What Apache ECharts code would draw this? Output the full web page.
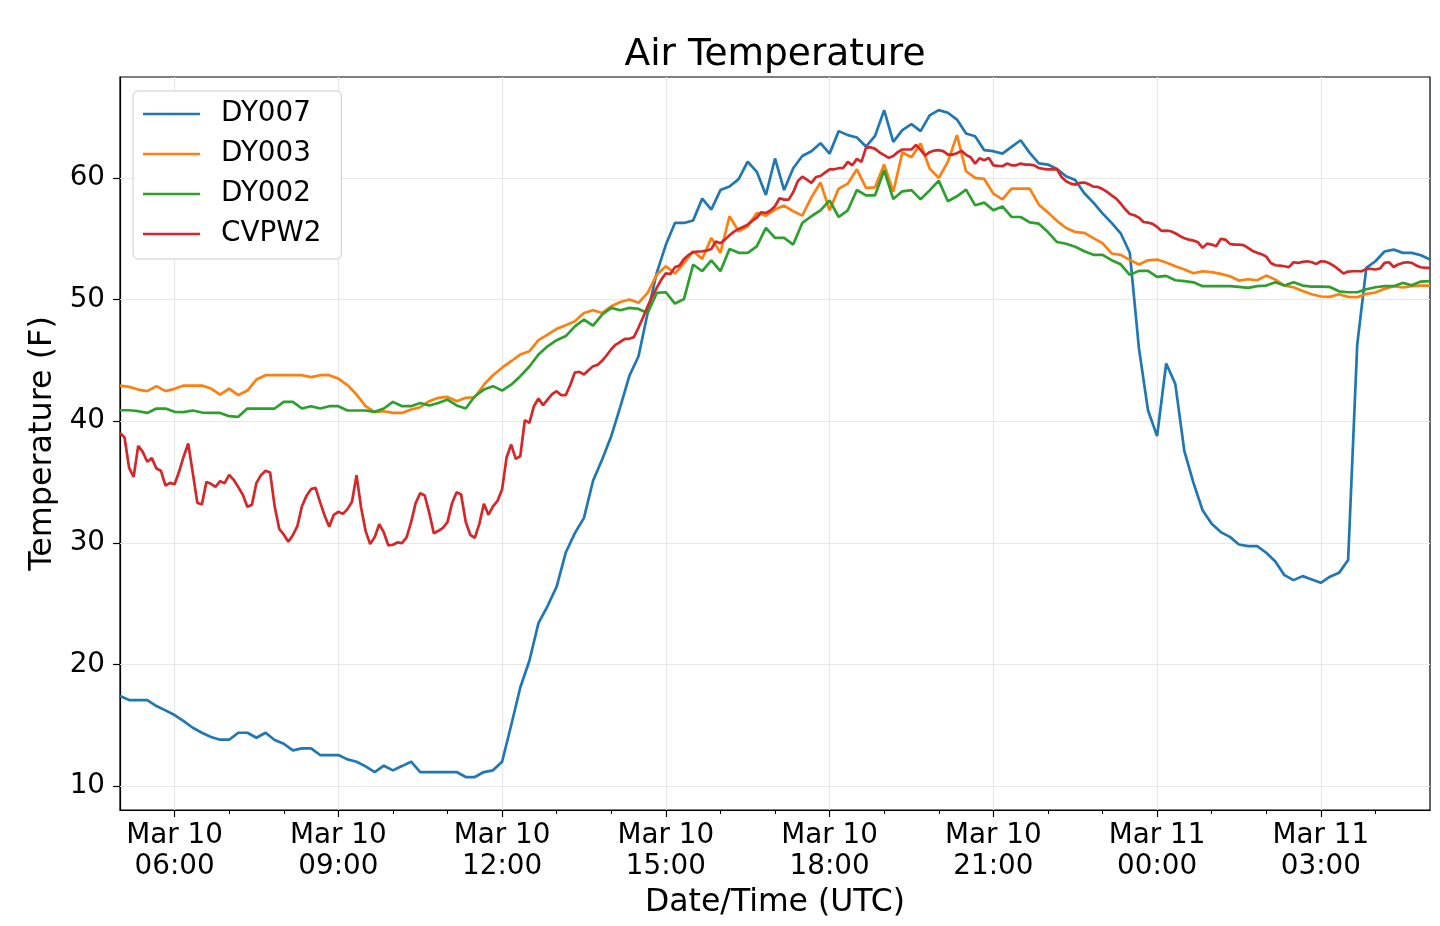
<!DOCTYPE html>
<html>
<head>
<meta charset="utf-8">
<script src="https://cdn.jsdelivr.net/npm/echarts@6/dist/echarts.min.js"></script>
<style>
html,body{margin:0;padding:0;background:#fff;}
#chart{width:1440px;height:926px;}
</style>
</head>
<body>
<div id="chart"></div>
<script>
// Time grid: hours since Mar 10 00:00 UTC
const startHour = 5;
const dyStepMin = 10;   // DY stations report every 10 minutes
const cvStepMin = 5;    // CVPW2 reports every 5 minutes

const xTickHours = [6, 9, 12, 15, 18, 21, 24, 27];
const xMinorHours = [7, 8, 10, 11, 13, 14, 16, 17, 19, 20, 22, 23, 25, 26, 28];
const yTicks = [10, 20, 30, 40, 50, 60];

const DY007 = [
17.4, 17.07, 17.07, 17.07, 16.58, 16.22, 15.84, 15.34, 14.79, 14.38,
14.03, 13.81, 13.81, 14.38, 14.38, 13.97, 14.38, 13.78, 13.48, 12.93,
13.1, 13.1, 12.55, 12.55, 12.55, 12.19, 12.0, 11.62, 11.15, 11.67,
11.29, 11.64, 12.0, 11.15, 11.15, 11.15, 11.15, 11.15, 10.74, 10.74,
11.15, 11.29, 12.0, 15.0, 18.1, 20.3, 23.4, 24.8, 26.4, 29.2,
30.8, 32.05, 35.1, 36.85, 38.77, 41.2, 43.75, 45.34, 48.9, 52.2,
54.5, 56.3, 56.3, 56.5, 58.3, 57.4, 59.0, 59.3, 59.9, 61.34,
60.5, 58.6, 61.6, 59.0, 60.8, 61.8, 62.2, 62.86, 62.0, 63.85,
63.52, 63.32, 62.58, 63.46, 65.58, 62.97, 63.93, 64.42, 63.85, 65.14,
65.58, 65.36, 64.8, 63.65, 63.43, 62.28, 62.2, 62.0, 62.55, 63.1,
62.06, 61.2, 61.1, 60.74, 60.14, 59.84, 58.74, 57.97, 57.09, 56.3,
55.45, 53.85, 46.03, 40.9, 38.77, 44.74, 43.07, 37.53, 34.93, 32.68,
31.56, 30.88, 30.49, 29.86, 29.73, 29.73, 29.18, 28.47, 27.34, 26.93,
27.26, 26.99, 26.71, 27.21, 27.53, 28.58, 46.3, 52.6, 53.15, 53.95,
54.11, 53.84, 53.84, 53.64, 53.29
];

const DY003 = [
42.93, 42.82, 42.6, 42.47, 42.88, 42.47, 42.66, 42.93, 42.93, 42.93,
42.68, 42.19, 42.68, 42.14, 42.52, 43.42, 43.78, 43.78, 43.78, 43.78,
43.78, 43.62, 43.78, 43.78, 43.5, 42.96, 42.19, 41.23, 40.74, 40.82,
40.68, 40.68, 40.96, 41.15, 41.64, 41.92, 42.0, 41.64, 41.92, 41.97,
43.0, 43.78, 44.4, 44.93, 45.48, 45.75, 46.66, 47.12, 47.59, 47.89,
48.22, 48.9, 49.12, 48.9, 49.45, 49.8, 50.0, 49.73, 50.55, 52.05,
52.74, 52.14, 53.0, 53.97, 53.34, 55.07, 53.84, 56.85, 55.62, 56.03,
57.12, 56.9, 57.4, 57.73, 57.26, 56.9, 58.4, 59.62, 57.34, 59.12,
59.53, 60.71, 59.18, 59.23, 61.1, 58.85, 62.09, 61.7, 62.83, 60.77,
60.0, 61.32, 63.52, 60.55, 60.0, 59.92, 58.71, 58.24, 59.12, 59.12,
59.12, 57.8, 57.17, 56.46, 55.88, 55.55, 55.49, 55.05, 54.64, 53.79,
53.68, 53.26, 52.88, 53.23, 53.29, 53.04, 52.74, 52.47, 52.16, 52.33,
52.25, 52.11, 51.92, 51.56, 51.67, 51.59, 51.97, 51.64, 51.15, 51.01,
50.71, 50.44, 50.25, 50.22, 50.44, 50.22, 50.19, 50.47, 50.58, 50.88,
51.1, 50.99, 51.1, 51.15, 51.15
];

const DY002 = [
40.9, 40.9, 40.82, 40.68, 41.04, 41.04, 40.77, 40.74, 40.88, 40.71,
40.68, 40.68, 40.41, 40.36, 41.04, 41.04, 41.04, 41.04, 41.59, 41.59,
41.04, 41.23, 41.04, 41.23, 41.23, 40.88, 40.88, 40.88, 40.77, 41.04,
41.59, 41.23, 41.23, 41.5, 41.29, 41.5, 41.78, 41.29, 41.04, 42.05,
42.6, 42.88, 42.52, 43.0, 43.7, 44.5, 45.48, 46.16, 46.66, 47.0,
47.8, 48.36, 47.86, 48.77, 49.32, 49.12, 49.32, 49.23, 48.9, 50.55,
50.6, 49.67, 50.05, 52.88, 52.33, 53.23, 52.33, 54.16, 53.84, 53.84,
54.38, 55.89, 55.07, 55.07, 54.52, 56.3, 56.85, 57.34, 58.16, 56.79,
57.34, 59.01, 58.57, 58.57, 60.63, 58.27, 58.9, 59.0, 58.24, 58.98,
59.78, 58.08, 58.49, 59.04, 57.75, 57.97, 57.34, 57.66, 56.79, 56.79,
56.35, 56.24, 55.55, 54.73, 54.59, 54.34, 53.98, 53.68, 53.68, 53.24,
52.9, 52.03, 52.36, 52.36, 51.86, 51.95, 51.59, 51.51, 51.42, 51.1,
51.1, 51.1, 51.1, 51.04, 50.96, 51.1, 51.15, 51.42, 51.15, 51.42,
51.15, 51.07, 51.07, 51.04, 50.68, 50.6, 50.6, 50.85, 51.01, 51.1,
51.1, 51.37, 51.18, 51.48, 51.51
];

const CVPW2 = [
39.04, 38.66, 36.16, 35.42, 37.97, 37.48, 36.66, 36.96, 36.11, 35.92,
34.71, 34.93, 34.82, 35.86, 37.1, 38.16, 35.75, 33.29, 33.15, 35.01,
34.85, 34.6, 35.07, 34.9, 35.59, 35.18, 34.58, 33.95, 32.96, 33.12,
34.93, 35.56, 35.92, 35.78, 33.0, 31.15, 30.68, 30.08, 30.63, 31.37,
33.0, 33.86, 34.41, 34.52, 33.32, 32.22, 31.32, 32.3, 32.55, 32.38,
32.77, 33.37, 35.56, 32.9, 30.96, 29.89, 30.47, 31.53, 30.85, 29.78,
29.84, 30.03, 29.97, 30.44, 31.7, 33.26, 34.08, 33.89, 32.44, 30.77,
30.99, 31.23, 31.7, 33.26, 34.16, 33.97, 31.73, 30.66, 30.41, 31.56,
33.21, 32.3, 32.99, 33.45, 34.38, 37.04, 38.08, 36.9, 37.12, 40.08,
39.86, 41.23, 41.86, 41.32, 41.78, 42.22, 42.47, 42.14, 42.14, 43.0,
44.0, 44.05, 43.84, 44.19, 44.52, 44.63, 44.96, 45.42, 45.92, 46.3,
46.52, 46.77, 46.77, 46.93, 47.7, 48.55, 49.45, 50.27, 50.96, 51.64,
52.16, 52.1, 52.66, 52.79, 53.34, 53.67, 53.89, 53.95, 53.97, 54.03,
54.16, 54.77, 54.63, 54.93, 55.29, 55.59, 55.81, 55.97, 56.16, 56.47,
56.74, 57.18, 57.12, 57.32, 57.67, 58.33, 58.22, 58.22, 58.82, 59.73,
60.1, 59.86, 59.59, 60.08, 60.16, 60.44, 60.71, 60.71, 60.8, 60.82,
61.32, 61.04, 61.57, 61.32, 62.47, 62.53, 62.39, 62.09, 61.87, 61.65,
61.81, 62.12, 62.34, 62.34, 62.34, 62.72, 62.31, 61.84, 62.12, 62.25,
62.28, 62.2, 61.92, 61.92, 62.03, 62.23, 61.9, 61.7, 61.18, 61.62,
61.46, 61.65, 61.04, 60.99, 60.96, 61.18, 61.04, 61.04, 61.18, 61.1,
61.1, 61.04, 60.82, 60.74, 60.71, 60.71, 60.71, 60.08, 59.73, 59.53,
59.45, 59.59, 59.62, 59.48, 59.29, 59.26, 59.09, 58.85, 58.57, 58.3,
57.9, 57.42, 57.04, 56.93, 56.74, 56.38, 56.33, 56.22, 55.97, 55.64,
55.67, 55.62, 55.45, 55.23, 55.04, 54.93, 54.85, 54.71, 54.25, 54.6,
54.52, 54.38, 54.99, 54.93, 54.58, 54.52, 54.52, 54.47, 54.25, 54.0,
53.84, 53.73, 53.53, 53.01, 52.82, 52.79, 52.74, 52.66, 53.07, 53.01,
53.1, 53.15, 53.07, 52.93, 53.15, 53.12, 52.96, 52.74, 52.44, 52.14,
52.3, 52.33, 52.33, 52.33, 52.52, 52.52, 52.47, 52.55, 53.01, 53.07,
52.68, 52.88, 53.01, 53.07, 53.01, 52.79, 52.66, 52.6, 52.6
];

function timeGrid(n, stepMin) {
  const t = [];
  for (let i = 0; i < n; i++) t.push(startHour + i * stepMin / 60);
  return t;
}
const dyTimes = timeGrid(DY007.length, dyStepMin);
const cvTimes = timeGrid(CVPW2.length, cvStepMin);
function pairs(times, vals) { return vals.map((v, i) => [times[i], v]); }

const FONT = 'DejaVu Sans';
const colors = ['#1f77b4', '#ff7f0e', '#2ca02c', '#d62728'];
const names = ['DY007', 'DY003', 'DY002', 'CVPW2'];
const seriesData = [pairs(dyTimes, DY007), pairs(dyTimes, DY003), pairs(dyTimes, DY002), pairs(cvTimes, CVPW2)];

function pad2(n) { return (n < 10 ? '0' : '') + n; }

const chart = echarts.init(document.getElementById('chart'), null, { renderer: 'canvas' });

const lineSeries = names.map((nm, i) => ({
  name: nm,
  type: 'line',
  data: seriesData[i],
  showSymbol: false,
  symbol: 'none',
  color: colors[i],
  lineStyle: { width: 2.7, color: colors[i] },
  emphasis: { disabled: true },
  z: 3
}));

const gridSeries = {
  type: 'line',
  data: [],
  silent: true,
  markLine: {
    silent: true,
    symbol: ['none', 'none'],
    label: { show: false },
    animation: false,
    z: 1,
    lineStyle: { color: '#e8e8e8', width: 1.2, type: 'solid' },
    data: xTickHours.map(h => ({ xAxis: h })).concat(yTicks.map(v => ({ yAxis: v })))
  },
  z: 1
};

chart.setOption({
  animation: false,
  backgroundColor: '#ffffff',
  textStyle: { fontFamily: FONT },
  title: {
    text: 'Air Temperature',
    left: 770,
    top: 31,
    textAlign: 'center',
    textStyle: { fontFamily: FONT, fontSize: 37.5, fontWeight: 'normal', color: '#000' }
  },
  legend: {
    data: names,
    orient: 'vertical',
    left: 133,
    top: 91,
    padding: [8, 20, 10, 10],
    icon: 'rect',
    itemWidth: 57,
    itemHeight: 2.7,
    itemGap: 10,
    backgroundColor: 'rgba(255,255,255,0.9)',
    borderColor: '#cccccc',
    borderWidth: 1,
    borderRadius: 5,
    textStyle: { fontFamily: FONT, fontSize: 27.8, color: '#000', padding: [0, 0, 0, 16], lineHeight: 30 }
  },
  grid: {
    left: 120, top: 77, width: 1310, height: 733,
    show: true, borderColor: '#000', borderWidth: 1.2, backgroundColor: 'transparent'
  },
  xAxis: [{
    type: 'value',
    min: 5, max: 29,
    name: 'Date/Time (UTC)',
    nameLocation: 'middle',
    nameGap: 74,
    nameTextStyle: { fontFamily: FONT, fontSize: 31.5, color: '#000' },
    axisLine: { show: true, onZero: false, lineStyle: { color: '#000', width: 1.2 } },
    axisTick: { show: true, customValues: xTickHours, length: 7, lineStyle: { color: '#000', width: 1.2 } },
    axisLabel: {
      customValues: xTickHours,
      fontFamily: FONT, fontSize: 27.8, color: '#000', lineHeight: 31, margin: 10,
      formatter: function (h) { return 'Mar ' + (h < 24 ? 10 : 11) + '\n' + pad2(h % 24) + ':00'; }
    },
    splitLine: { show: false }
  }, {
    type: 'value',
    min: 5, max: 29,
    position: 'bottom',
    offset: 0,
    axisLine: { show: false },
    axisTick: { show: true, customValues: xMinorHours, length: 4, lineStyle: { color: '#000', width: 1 } },
    axisLabel: { show: false },
    splitLine: { show: false }
  }],
  yAxis: {
    type: 'value',
    min: 8.03, max: 68.3,
    name: 'Temperature (F)',
    nameLocation: 'middle',
    nameRotate: 90,
    nameGap: 51,
    nameTextStyle: { fontFamily: FONT, fontSize: 31.8, color: '#000' },
    axisLine: { show: true, onZero: false, lineStyle: { color: '#000', width: 1.2 } },
    axisTick: { show: true, customValues: yTicks, length: 7, lineStyle: { color: '#000', width: 1.2 } },
    axisLabel: { customValues: yTicks, fontFamily: FONT, fontSize: 27.8, color: '#000', margin: 15 },
    splitLine: { show: false }
  },
  series: [gridSeries].concat(lineSeries)
});
</script>
</body>
</html>
